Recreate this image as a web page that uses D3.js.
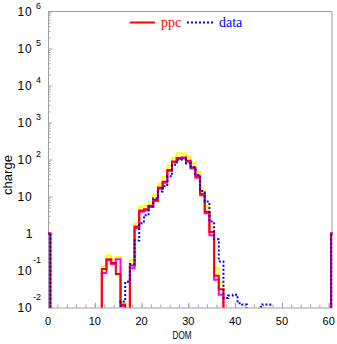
<!DOCTYPE html>
<html><head><meta charset="utf-8">
<script src="https://cdn.jsdelivr.net/npm/d3@7"></script>
<style>body{margin:0;background:#fff}svg{display:block}</style>
</head><body>
<svg id="c" width="337" height="344"></svg>
<script>
// DOM bins (integers, bin edges at half-integers)
const dom = [0, 12,13,14,15,16,17,18,19,20,21,22,23,24,25,26,27,28,29,30,31,32,33,34,35,36,37,38,39,40,41,42,43,44,45,46,47, 61];
// ppc prediction (red)
const ppc   = [1, 0.11,0.2,0.16,0.08,0.012,0, 0.136,1.55,4.2,4.5,5.6,8.1,17.5,25,52,88,110,113,92,61,35,11.6,3.9,1.1,0.072,0.031, 0,0,0,0,0,0,0,0,0,0, 1];
// ppc upper band (yellow)
const upper = [1, 0.13,0.26,0.2,0.23,0.014,0, 0.19,1.85,5.3,5.6,7.0,11,22,34,68,114,148,145,120,80,45,15.5,5.5,1.45,0.116,0.046, 0,0,0,0,0,0,0,0,0,0, 1];
// ppc lower band (magenta)
const lower = [1, 0.085,0.19,0.15,0.2,0.011,0, 0.115,1.4,3.9,4.2,5.2,7.6,16,23.5,49,84,104,108,87,57,32,10.8,3.5,0.9,0.056,0.022, 0,0,0,0,0,0,0,0,0,0, 1];
// data (blue dotted)
const data  = [1, 0,0,0,0,0.0146,0.05, 0.15,0.65,1.9,3.1,5.4,9,13.6,19,35,72,98,100,78,62,38,14,7.3,2.1,0.7,0.175, 0.018,0.021,0.022,0.013,0.012,0,0,0,0.012,0.012, 1];

const xTicks = [0,10,20,30,40,50,60];
const xMinor = [0,2,4,6,8,10,12,14,16,18,20,22,24,26,28,30,32,34,36,38,40,42,44,46,48,50,52,54,56,58,60];
const yExp = [-2,-1,0,1,2,3,4,5,6];

const svg = d3.select('#c');
const L=48, R=332, T=11.5, B=307.5;
const x = d3.scaleLinear().domain([0,60.7]).range([L,R]);
const y = d3.scaleLog().domain([1e-2,1e6]).range([B,T]);
const grey = '#a0a0a0';
const floorV = 1e-3;

// frame
svg.append('path').attr('d',`M${L},${T}H${R}V${B}`).attr('fill','none').attr('stroke',grey).attr('stroke-width',1);

// y axis
const majorY = yExp.map(e=>Math.pow(10,e));
const minorY = [];
yExp.slice(0,-1).forEach(e=>{for(let k=2;k<=9;k++) minorY.push(k*Math.pow(10,e));});
const gy = svg.append('g').attr('transform',`translate(${L},0)`);
gy.call(d3.axisLeft(y).tickValues(majorY).tickSize(-4.5).tickSizeOuter(0).tickFormat(''));
gy.append('g').call(d3.axisLeft(y).tickValues(minorY).tickSize(-2.5).tickSizeOuter(0).tickFormat('')).select('.domain').remove();
gy.selectAll('line,path').attr('stroke',grey);

// x axis
const gx = svg.append('g').attr('transform',`translate(0,${B})`);
gx.call(d3.axisBottom(x).tickValues(xTicks).tickSize(-5).tickSizeOuter(0).tickFormat(''));
gx.append('g').call(d3.axisBottom(x).tickValues(xMinor).tickSize(-3).tickSizeOuter(0).tickFormat('')).select('.domain').remove();
gx.selectAll('line,path').attr('stroke',grey);

// y labels
const font = "'Liberation Sans', Arial, Helvetica, sans-serif";
yExp.forEach(e=>{
  const yy = y(Math.pow(10,e));
  if(e===0){
    svg.append('text').attr('x',32.5).attr('y',yy+4).attr('text-anchor','end').attr('font-family',font).attr('font-size',12).text('1');
  } else {
    svg.append('text').attr('x',32.5).attr('y',yy+4).attr('text-anchor','end').attr('font-family',font).attr('font-size',12).attr('letter-spacing',0.8).text('10');
    if(e!==1){
      svg.append('text').attr('x',41).attr('y', e>0 ? yy-3 : yy-8).attr('text-anchor','end').attr('font-family',font).attr('font-size',9).text(String(e));
    }
  }
});
// x labels
xTicks.forEach(v=>{
  svg.append('text').attr('x',x(v)).attr('y',325).attr('text-anchor','middle').attr('font-family',font).attr('font-size',11).text(String(v));
});
svg.append('text').attr('x',182).attr('y',338.5).attr('text-anchor','middle').attr('font-family',font).attr('font-size',11)
  .attr('textLength',19).attr('lengthAdjust','spacingAndGlyphs').text('DOM');
svg.append('text').attr('transform','translate(12,175) rotate(-90)').attr('text-anchor','middle').attr('font-family',font).attr('font-size',13).text('charge');

// clip
svg.append('clipPath').attr('id','pc').append('rect').attr('x',L).attr('y',T-1).attr('width',R-L+0.5).attr('height',B-T+1);

function stepPath(vals){
  const p = d3.path();
  const yf = y(floorV);
  dom.forEach((d,i)=>{
    const v = Math.max(vals[i], floorV);
    if(i===0 || dom[i]!==dom[i-1]+1){
      if(i>0) p.lineTo(x(dom[i-1]+0.5), yf);
      p.moveTo(x(d-0.5), yf);
    }
    p.lineTo(x(d-0.5), y(v));
    p.lineTo(x(d+0.5), y(v));
  });
  p.lineTo(x(dom[dom.length-1]+0.5), yf);
  return p.toString();
}
const gh = svg.append('g').attr('clip-path','url(#pc)');
const series = [
  {v:upper, c:'#ffff00', dash:null},
  {v:lower, c:'#ff00ff', dash:null},
  {v:ppc,   c:'#ff0000', dash:null},
  {v:data,  c:'#0000ff', dash:'2,2'}
];
series.forEach(s=>{
  gh.append('path').attr('d',stepPath(s.v)).attr('fill','none').attr('stroke',s.c).attr('stroke-width',2)
    .attr('stroke-dasharray',s.dash);
});

// legend
const serif = "'Liberation Serif', 'Times New Roman', serif";
svg.append('line').attr('x1',130).attr('x2',155).attr('y1',22.5).attr('y2',22.5).attr('stroke','#ff0000').attr('stroke-width',2);
svg.append('text').attr('x',161).attr('y',27).attr('font-family',serif).attr('font-size',14).attr('fill','#ff0000').text('ppc');
svg.append('line').attr('x1',187).attr('x2',214).attr('y1',22.5).attr('y2',22.5).attr('stroke','#0000ff').attr('stroke-width',2).attr('stroke-dasharray','2,2');
svg.append('text').attr('x',219).attr('y',27).attr('font-family',serif).attr('font-size',14).attr('fill','#0000ff').text('data');
</script>
</body></html>
